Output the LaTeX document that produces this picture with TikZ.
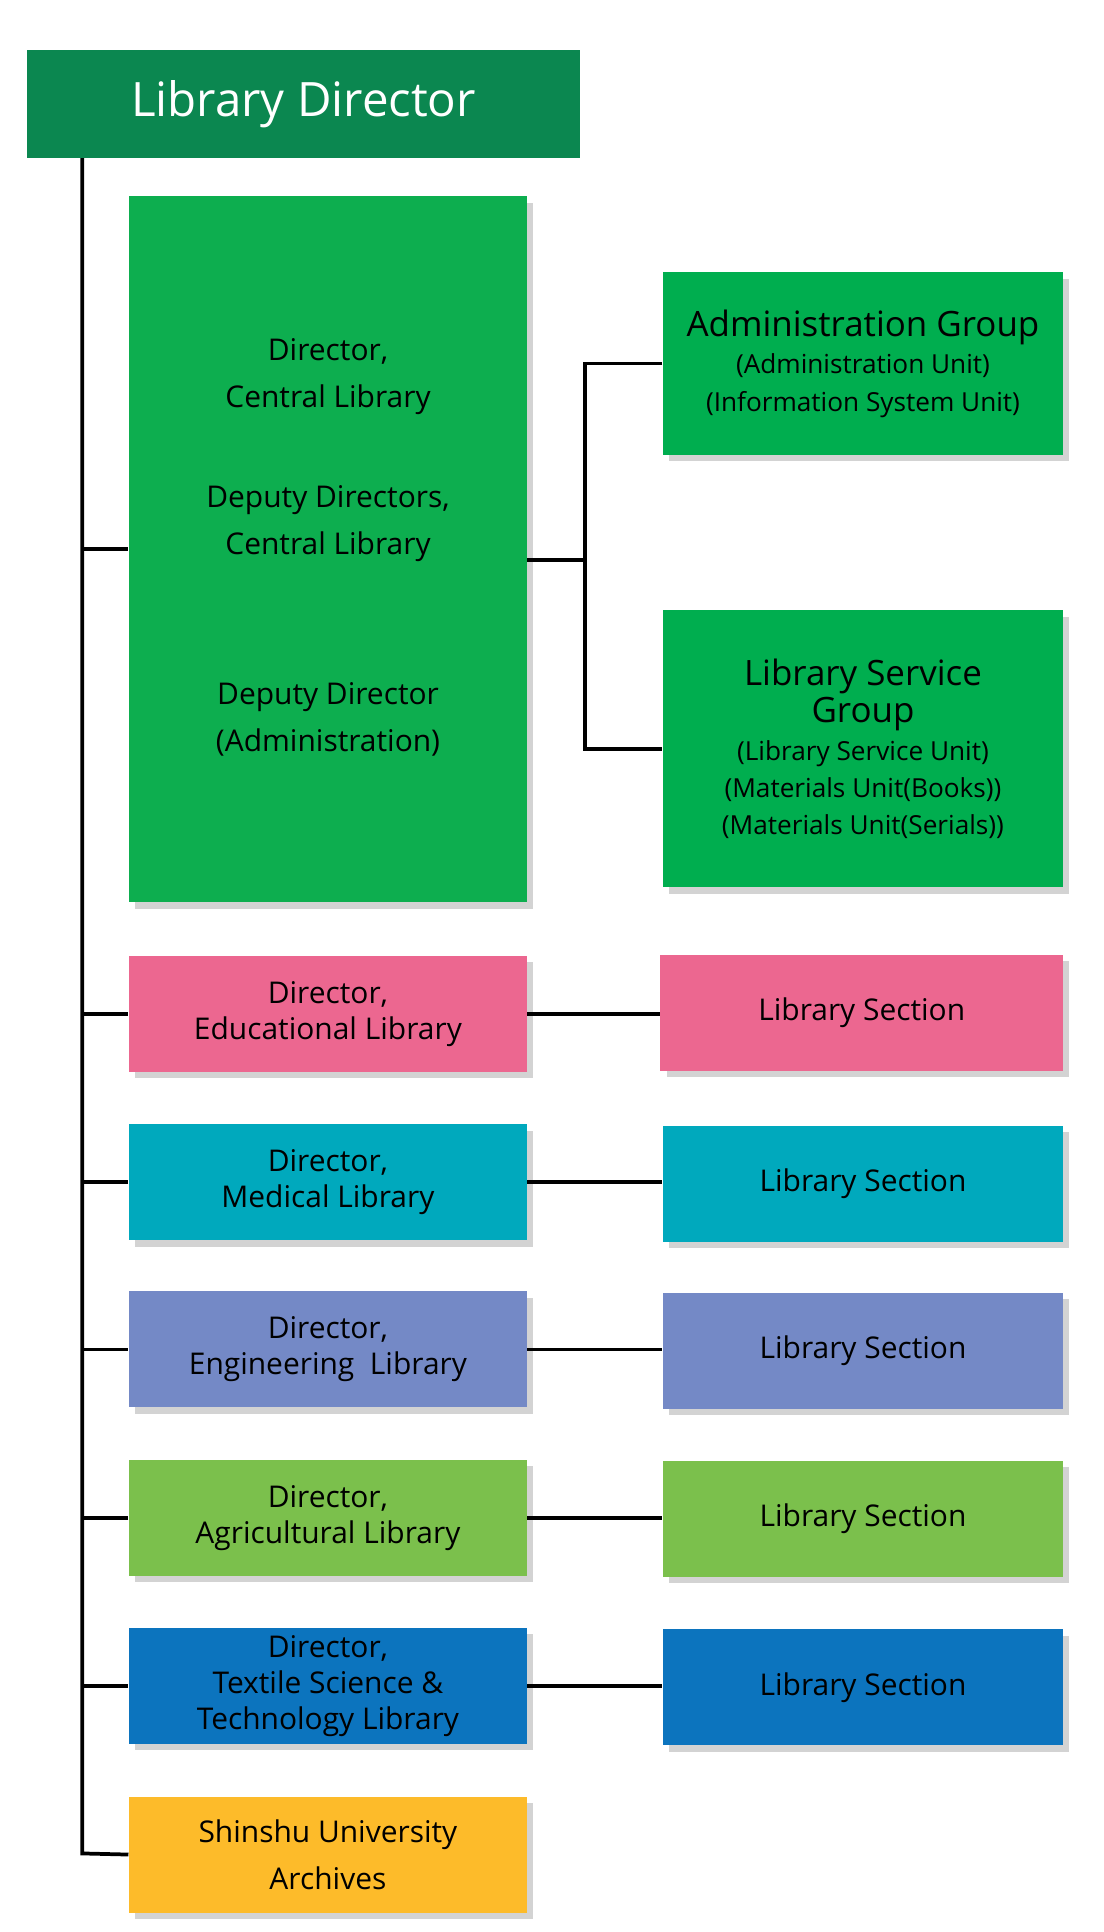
\documentclass[tikz,border=0pt]{standalone}
\usepackage{fontspec}
\setmainfont{Open Sans}
\usetikzlibrary{positioning,shadows}
\definecolor{topgreen}{HTML}{0B8750}
\definecolor{cengreen}{HTML}{0DAE4F}
\definecolor{grpgreen}{HTML}{00AE4F}
\definecolor{edupink}{HTML}{EC6790}
\definecolor{medcyan}{HTML}{00A9BD}
\definecolor{engblue}{HTML}{7489C6}
\definecolor{agrgreen}{HTML}{7BC04C}
\definecolor{texblue}{HTML}{0C74BE}
\definecolor{arcyellow}{HTML}{FDBB2A}
\newcommand{\bigline}{\fontsize{14}{16}\selectfont}
\newcommand{\smallline}{\fontsize{10.5}{15}\selectfont}
\tikzset{
  box/.style={anchor=north west, inner sep=0pt, minimum width=159.5pt, minimum height=46.5pt,
    align=center, font=\fontsize{12}{14.5}\selectfont,
    drop shadow={shadow xshift=2.5pt, shadow yshift=-2.5pt, opacity=0.35, fill=gray}},
  link/.style={line width=1.5pt, black}
}
\begin{document}
\begin{tikzpicture}[x=0.5pt, y=-0.5pt]
    \useasboundingbox (0,0) rectangle (885,1549);

    % Library Director
    \node[anchor=north west, inner sep=0pt, fill=topgreen, text=white, minimum width=222pt, minimum height=43pt,
      font=\fontsize{19}{22}\selectfont] (top) at (21,40) {Library Director};

    % Central library block
    \node[box, fill=cengreen, minimum height=283pt] (cen) at (103,157) {};
    \node[align=center, font=\fontsize{12}{19}\selectfont] (cenA) at (263,302) {Director,\\Central Library};
    \node[align=center, font=\fontsize{12}{19}\selectfont] (cenB) at (263,420) {Deputy Directors,\\Central Library};
    \node[align=center, font=\fontsize{12}{19}\selectfont] (cenC) at (263,577) {Deputy Director\\(Administration)};

    % Groups of the central library
    \node[box, fill=grpgreen, minimum width=160.5pt, minimum height=73pt, font=\smallline] (adm) at (531,218)
      {\bigline Administration Group\\\smallline (Administration Unit)\\(Information System Unit)};
    \node[box, fill=grpgreen, minimum width=160.5pt, minimum height=111pt, font=\smallline] (lsg) at (531,489)
      {\bigline Library Service\\\bigline Group\\\smallline (Library Service Unit)\\(Materials Unit(Books))\\(Materials Unit(Serials))};

    % Branch libraries and sections
    \node[box, fill=edupink] (edu) at (103,766) {Director,\\Educational Library};
    \node[box, fill=edupink, minimum width=161.5pt] (eduS) at (529,765) {Library Section};
    \node[box, fill=medcyan] (med) at (103,901) {Director,\\Medical Library};
    \node[box, fill=medcyan, minimum width=160.5pt] (medS) at (531,902) {Library Section};
    \node[box, fill=engblue] (eng) at (103,1035) {Director,\\Engineering\ \ Library};
    \node[box, fill=engblue, minimum width=160.5pt] (engS) at (531,1036) {Library Section};
    \node[box, fill=agrgreen] (agr) at (103,1170) {Director,\\Agricultural Library};
    \node[box, fill=agrgreen, minimum width=160.5pt] (agrS) at (531,1171) {Library Section};
    \node[box, fill=texblue] (tex) at (103,1305) {Director,\\Textile Science \&\\Technology Library};
    \node[box, fill=texblue, minimum width=160.5pt] (texS) at (531,1306) {Library Section};
    \node[box, fill=arcyellow, font=\fontsize{12}{19}\selectfont] (arc) at (103,1440) {Shinshu University\\Archives};

    % Trunk line
    \coordinate (trunk) at (66,1486);
    \draw[link] (top.south -| trunk) -- (trunk) -- (arc.west);
    \foreach \n in {edu,med,eng,agr,tex}
        \draw[link] (\n.west -| trunk) -- (\n.west);
    \draw[link] (66,440) -- (cen.west |- 0,440);

    % Central library to groups
    \coordinate (fork) at (469,449);
    \draw[link] (cen.east |- fork) -- (fork);
    \draw[link] (adm.west) -| (fork) |- (lsg.west);

    % Branch to section
    \foreach \n in {edu,med,eng,agr,tex}
        \draw[link] (\n.east) -- (\n.east -| \n S.west);
\end{tikzpicture}
\end{document}
